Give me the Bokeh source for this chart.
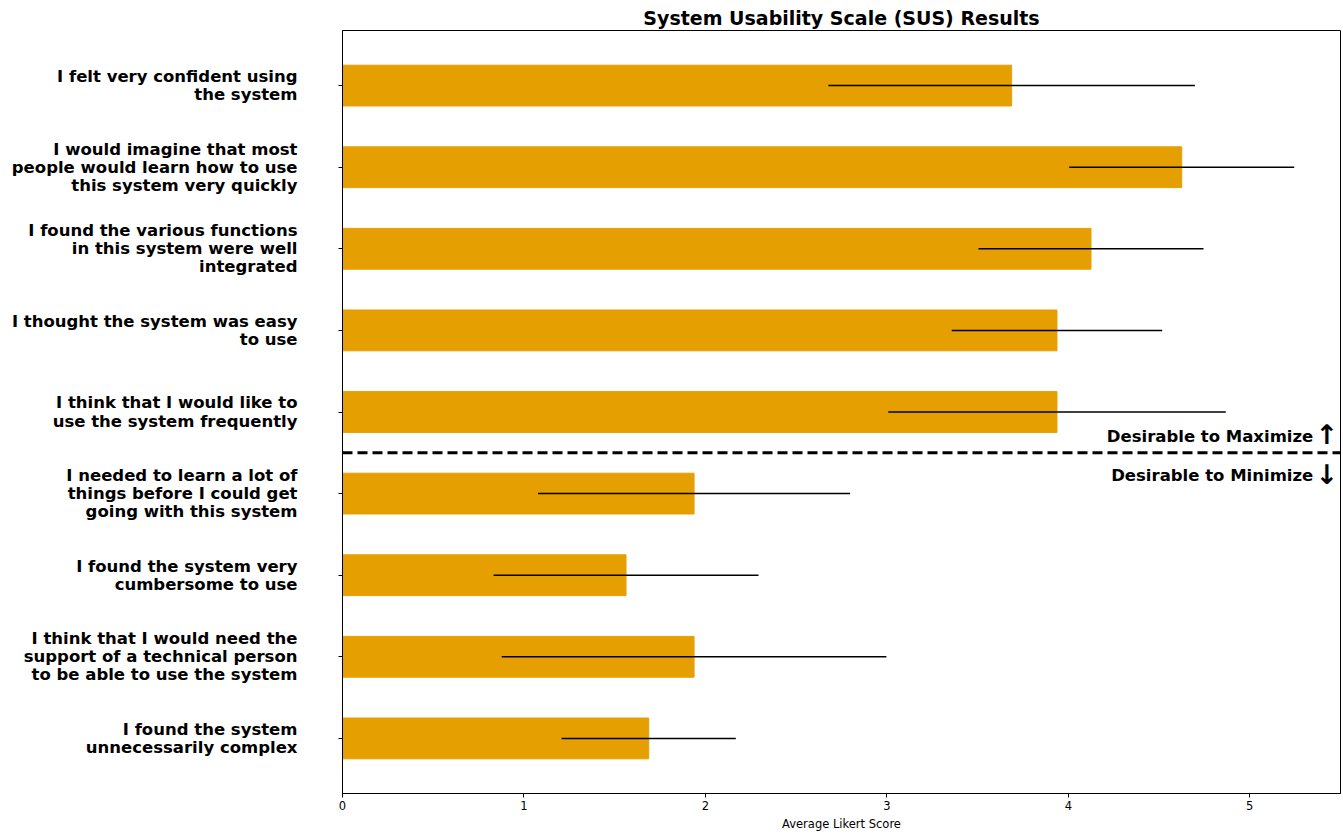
from bokeh.plotting import figure
from bokeh.models import Range1d, FixedTicker, Span, ColumnDataSource
from bokeh.core.properties import value
from bokeh.embed import file_html
from bokeh.resources import INLINE

labels = [
    "I felt very confident using\nthe system",
    "I would imagine that most\npeople would learn how to use\nthis system very quickly",
    "I found the various functions\nin this system were well\nintegrated",
    "I thought the system was easy\nto use",
    "I think that I would like to\nuse the system frequently",
    "I needed to learn a lot of\nthings before I could get\ngoing with this system",
    "I found the system very\ncumbersome to use",
    "I think that I would need the\nsupport of a technical person\nto be able to use the system",
    "I found the system\nunnecessarily complex",
]
means = [3.6875, 4.625, 4.125, 3.9375, 3.9375, 1.9375, 1.5625, 1.9375, 1.6875]
stds = [1.01, 0.62, 0.62, 0.58, 0.93, 0.86, 0.73, 1.06, 0.48]
x_ticks = [0, 1, 2, 3, 4, 5]

idx = list(range(len(labels)))
src = ColumnDataSource(dict(
    y=idx,
    m=means,
    lo=[m - s for m, s in zip(means, stds)],
    hi=[m + s for m, s in zip(means, stds)],
))

FONT = "DejaVu Sans"

p = figure(width=1343, height=835, output_backend="svg", toolbar_location=None,
           x_range=Range1d(0, 5.5), y_range=Range1d(8.675, -0.675),
           min_border_left=342, min_border_right=3, min_border_top=30,
           min_border_bottom=42, title="System Usability Scale (SUS) Results")

p.title.text_font = FONT
p.title.text_font_size = "19px"
p.title.text_font_style = "bold"
p.title.align = "center"
p.title.text_color = "black"
p.title.standoff = 3

p.hbar(y="y", right="m", left=0, height=0.5, source=src, color="#E69F00")
p.segment(x0="lo", x1="hi", y0="y", y1="y", source=src, line_color="black", line_width=1.5)

p.add_layout(Span(location=4.5, dimension="width", line_color="black",
                  line_width=3, line_dash="10 5"))

p.text(x=[5.35, 5.35], y=[4.5, 4.5], text=["Desirable to Maximize", "Desirable to Minimize"],
       text_align="right", text_baseline="middle", y_offset=[-16, 23],
       text_font=value(FONT), text_font_style="bold", text_font_size="16.5px",
       text_color="black")
p.text(x=[5.425, 5.425], y=[4.5, 4.5], text=["\u2191", "\u2193"],
       text_align="center", text_baseline="middle", y_offset=[-18, 22],
       text_font=value(FONT), text_font_style="bold", text_font_size="27px",
       text_color="black")

p.xgrid.visible = False
p.ygrid.visible = False
p.outline_line_color = "black"
p.outline_line_width = 1

p.yaxis.ticker = FixedTicker(ticks=idx)
p.yaxis.major_label_overrides = {i: l for i, l in zip(idx, labels)}
p.yaxis.major_label_text_font = FONT
p.yaxis.major_label_text_font_style = "bold"
p.yaxis.major_label_text_font_size = "16.5px"
p.yaxis.major_label_text_line_height = 0.95
p.yaxis.major_label_text_color = "black"
p.yaxis.major_tick_out = 4
p.yaxis.major_tick_in = 0
p.yaxis.minor_tick_out = 0
p.yaxis.minor_tick_in = 0
p.yaxis.major_label_standoff = 41
p.yaxis.axis_line_color = "black"

p.xaxis.ticker = FixedTicker(ticks=x_ticks)
p.xaxis.major_label_text_font = FONT
p.xaxis.major_label_text_font_size = "11.5px"
p.xaxis.major_label_text_color = "black"
p.xaxis.major_tick_out = 4
p.xaxis.major_tick_in = 0
p.xaxis.minor_tick_out = 0
p.xaxis.minor_tick_in = 0
p.xaxis.major_label_standoff = 3
p.xaxis.axis_label = "Average Likert Score"
p.xaxis.axis_label_text_font = FONT
p.xaxis.axis_label_text_font_size = "11.5px"
p.xaxis.axis_label_text_font_style = "normal"
p.xaxis.axis_label_text_color = "black"
p.xaxis.axis_label_standoff = 4
p.xaxis.axis_line_color = "black"

open("out.html", "w").write(file_html(p, INLINE))
